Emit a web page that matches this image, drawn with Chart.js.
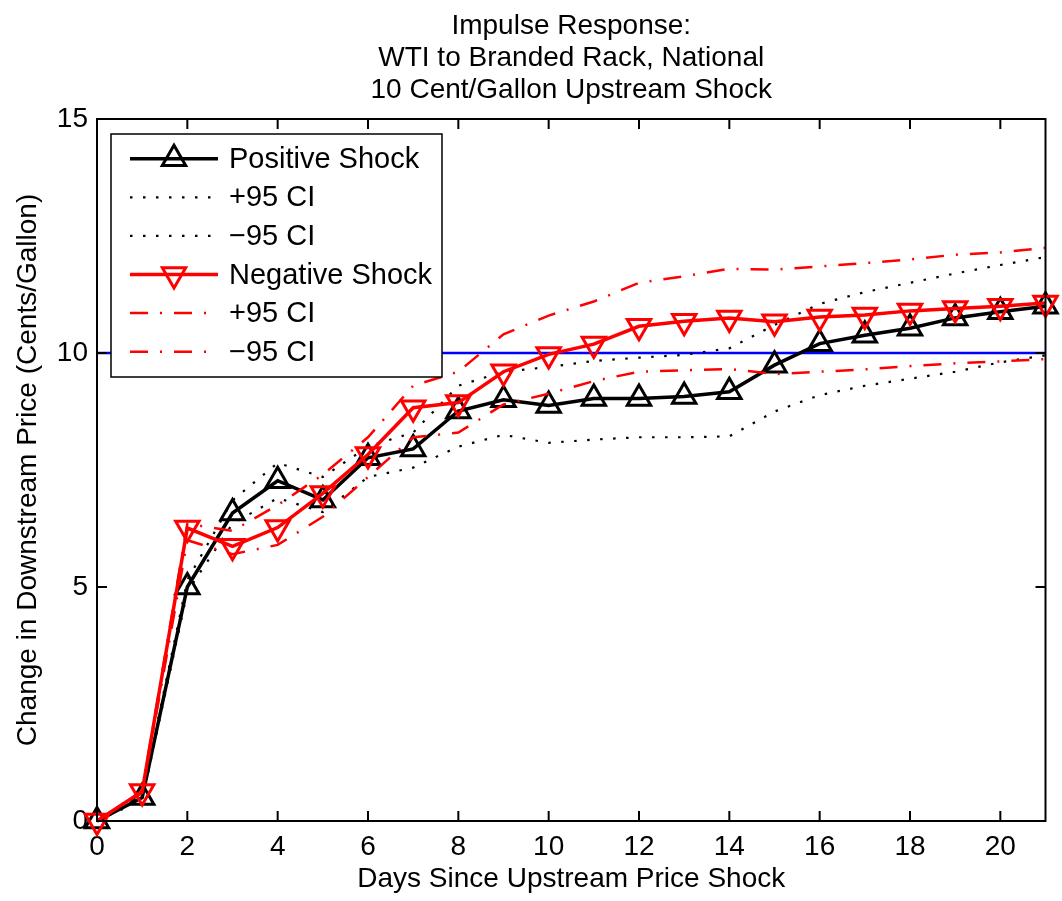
<!DOCTYPE html>
<html>
<head>
<meta charset="utf-8">
<script src="https://cdn.jsdelivr.net/npm/chart.js@4/dist/chart.umd.min.js"></script>
<style>
  html, body { margin: 0; padding: 0; background: #fff; }
</style>
</head>
<body>
<canvas id="myChart" width="1062" height="901"></canvas>
<script>
// data
const days = [0, 1, 2, 3, 4, 5, 6, 7, 8, 9, 10, 11, 12, 13, 14, 15, 16, 17, 18, 19, 20, 21];
const positiveShock = [0, 0.5, 5.0, 6.58, 7.27, 6.86, 7.76, 7.95, 8.76, 9.0, 8.88, 9.03, 9.03, 9.07, 9.17, 9.74, 10.2, 10.38, 10.53, 10.75, 10.88, 11.0];
const positiveUpper = [0, 0.55, 5.15, 6.85, 7.65, 7.35, 8.0, 8.3, 9.3, 9.6, 9.7, 9.83, 9.9, 9.96, 10.1, 10.6, 11.05, 11.3, 11.5, 11.7, 11.88, 12.05];
const positiveLower = [0, 0.45, 4.9, 6.35, 6.9, 6.6, 7.35, 7.55, 8.0, 8.25, 8.08, 8.15, 8.2, 8.2, 8.22, 8.75, 9.1, 9.3, 9.45, 9.6, 9.8, 9.95];
const negativeShock = [0, 0.63, 6.26, 5.87, 6.27, 7.0, 7.83, 8.83, 8.94, 9.6, 9.97, 10.19, 10.57, 10.68, 10.75, 10.67, 10.77, 10.81, 10.9, 10.95, 11.0, 11.07];
const negativeUpper = [0, 0.65, 6.35, 6.2, 6.75, 7.4, 8.2, 9.3, 9.6, 10.4, 10.8, 11.1, 11.5, 11.64, 11.8, 11.78, 11.85, 11.92, 12.0, 12.1, 12.15, 12.25];
const negativeLower = [0, 0.6, 6.0, 5.7, 5.9, 6.5, 7.35, 8.2, 8.3, 8.9, 9.13, 9.4, 9.6, 9.63, 9.66, 9.55, 9.6, 9.65, 9.72, 9.78, 9.82, 9.87];
const refDays = [0, 21];
const refLevel = [10, 10];

const xTicks = [0, 2, 4, 6, 8, 10, 12, 14, 16, 18, 20];
const yTicks = [0, 5, 10, 15];
const titleLines = ['Impulse Response:', 'WTI to Branded Rack, National', '10 Cent/Gallon Upstream Shock'];
const xTitle = 'Days Since Upstream Price Shock';
const yTitle = 'Change in Downstream Price (Cents/Gallon)';

const FONT = "'Liberation Sans', Arial, Helvetica, sans-serif";
const dotted = [2.5, 10.5];
const dashDot = [18, 12, 2, 12];

const pts = (xs, ys) => xs.map((d, i) => ({ x: d, y: ys[i] }));

function series(label, values, color, width, dash, marker, rot) {
    return {
        label: label,
        data: pts(days, values),
        borderColor: color,
        borderWidth: width,
        borderDash: dash || [],
        backgroundColor: 'transparent',
        pointStyle: 'triangle',
        pointRadius: marker ? 13.5 : 0,
        pointHoverRadius: marker ? 13.5 : 0,
        pointBorderWidth: 3,
        pointBorderColor: color,
        pointBackgroundColor: 'rgba(0,0,0,0)',
        pointRotation: rot || 0,
        tension: 0,
        fill: false,
        clip: false,
        marker: marker
    };
}

// first dataset is drawn on top
const datasets = [
    series('Negative Shock', negativeShock, '#ff0000', 3.5, null, true, 180),
    series('+95 CI', negativeUpper, '#ff0000', 2.5, dashDot),
    series('\u221295 CI', negativeLower, '#ff0000', 2.5, dashDot),
    series('Positive Shock', positiveShock, '#000000', 3.5, null, true, 0),
    series('+95 CI', positiveUpper, '#000000', 2.2, dotted),
    series('\u221295 CI', positiveLower, '#000000', 2.2, dotted),
    {
        label: 'ten',
        data: pts(refDays, refLevel),
        borderColor: '#0000ff',
        borderWidth: 2.5,
        pointRadius: 0,
        tension: 0,
        fill: false
    }
];

// legend order as in picture
const legendOrder = [3, 4, 5, 0, 1, 2];

function triangle(ctx, x, y, r, rotDeg) {
    let rad = rotDeg * Math.PI / 180;
    ctx.beginPath();
    for (let k = 0; k < 3; k++) {
        const px = x + Math.sin(rad) * r;
        const py = y - Math.cos(rad) * r;
        if (k == 0) ctx.moveTo(px, py); else ctx.lineTo(px, py);
        rad += 2 * Math.PI / 3;
    }
    ctx.closePath();
    ctx.stroke();
}

const framePlugin = {
    id: 'frame',
    afterDatasetsDraw(chart) {
        const { ctx, chartArea: a, scales } = chart;
        const tl = 10;
        ctx.save();
        ctx.strokeStyle = '#000';
        ctx.lineWidth = 2;
        ctx.setLineDash([]);
        ctx.strokeRect(a.left, a.top, a.right - a.left, a.bottom - a.top);
        ctx.beginPath();
        xTicks.forEach(v => {
            const px = scales.x.getPixelForValue(v);
            ctx.moveTo(px, a.bottom); ctx.lineTo(px, a.bottom - tl);
            ctx.moveTo(px, a.top); ctx.lineTo(px, a.top + tl);
        });
        yTicks.forEach(v => {
            const py = scales.y.getPixelForValue(v);
            ctx.moveTo(a.left, py); ctx.lineTo(a.left + tl, py);
            ctx.moveTo(a.right, py); ctx.lineTo(a.right - tl, py);
        });
        ctx.stroke();
        ctx.restore();
    },
    afterDraw(chart) {
        const ctx = chart.ctx;
        const bx = 111, by = 134, bw = 331, bh = 243;
        const rowH = 38.6, firstRow = 158.7;
        ctx.save();
        ctx.fillStyle = '#fff';
        ctx.fillRect(bx, by, bw, bh);
        ctx.strokeStyle = '#000';
        ctx.lineWidth = 1.5;
        ctx.strokeRect(bx, by, bw, bh);
        ctx.font = '29px ' + FONT;
        ctx.textBaseline = 'middle';
        ctx.textAlign = 'left';
        legendOrder.forEach((di, row) => {
            const ds = chart.data.datasets[di];
            const y = firstRow + row * rowH;
            ctx.strokeStyle = ds.borderColor;
            ctx.lineWidth = ds.borderWidth;
            ctx.setLineDash(ds.borderDash);
            ctx.beginPath();
            ctx.moveTo(130, y);
            ctx.lineTo(218, y);
            ctx.stroke();
            ctx.setLineDash([]);
            if (ds.marker) {
                ctx.lineWidth = ds.pointBorderWidth;
                triangle(ctx, 174, y, ds.pointRadius, ds.pointRotation);
            }
            ctx.fillStyle = '#000';
            ctx.fillText(ds.label, 229, y + 1);
        });
        ctx.restore();
    }
};

const ctx = document.getElementById('myChart');

const config = {
    type: 'line',
    data: { datasets: datasets },
    options: {
        responsive: false,
        animation: false,
        events: [],
        layout: { padding: { left: 0, right: 13, top: 0, bottom: 0 } },
        plugins: {
            legend: { display: false },
            tooltip: { enabled: false },
            title: {
                display: true,
                fullSize: false,
                text: titleLines,
                color: '#000',
                font: { family: FONT, size: 28, weight: 'normal', lineHeight: 32 / 28 },
                padding: { top: 10, bottom: 13 }
            }
        },
        scales: {
            x: {
                type: 'linear',
                min: 0,
                max: 21,
                afterBuildTicks: s => { s.ticks = xTicks.map(v => ({ value: v })); },
                afterFit: s => { s.height = 80; },
                grid: { display: false, drawTicks: false },
                border: { display: false },
                ticks: { color: '#000', font: { family: FONT, size: 28 }, padding: 9, maxRotation: 0, autoSkip: false },
                title: { display: true, text: xTitle, color: '#000', font: { family: FONT, size: 28 }, padding: { top: 0, bottom: 5 } }
            },
            y: {
                type: 'linear',
                min: 0,
                max: 15,
                afterBuildTicks: s => { s.ticks = yTicks.map(v => ({ value: v })); },
                afterFit: s => { s.width = 97; },
                grid: { display: false, drawTicks: false },
                border: { display: false },
                ticks: { color: '#000', font: { family: FONT, size: 28 }, padding: 9 },
                title: { display: true, text: yTitle, color: '#000', font: { family: FONT, size: 28 }, padding: { top: 11, bottom: 0 } }
            }
        }
    },
    plugins: [framePlugin]
};

new Chart(ctx, config);
</script>
</body>
</html>
